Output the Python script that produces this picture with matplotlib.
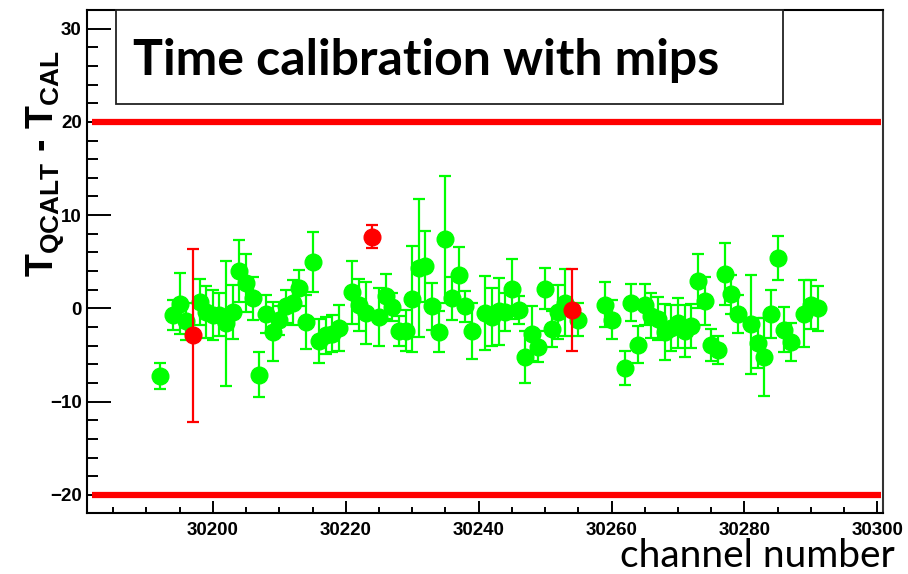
import numpy as np
import matplotlib
matplotlib.use('Agg')
import matplotlib.pyplot as plot
from matplotlib.patches import Rectangle

plot.rcParams['mathtext.fontset'] = 'custom'
plot.rcParams['mathtext.rm'] = 'Liberation Sans'
plot.rcParams['mathtext.bf'] = 'Liberation Sans:bold'

# good channels (green)
channels = [30192, 30194, 30195, 30196, 30198, 30199, 30200, 30201, 30202, 30203,
            30204, 30205, 30206, 30207, 30208, 30209, 30210, 30211, 30212, 30213,
            30214, 30215, 30216, 30217, 30218, 30219, 30221, 30222, 30223, 30225,
            30226, 30227, 30228, 30229, 30230, 30231, 30232, 30233, 30234, 30235,
            30236, 30237, 30238, 30239, 30241, 30242, 30243, 30244, 30245, 30246,
            30247, 30248, 30249, 30250, 30251, 30252, 30253, 30255, 30259, 30260,
            30262, 30263, 30264, 30265, 30266, 30267, 30268, 30269, 30270, 30271,
            30272, 30273, 30274, 30275, 30276, 30277, 30278, 30279, 30281, 30282,
            30283, 30284, 30285, 30286, 30287, 30289, 30290, 30291]
dt = [-7.3, -0.7, 0.5, -1.4, 0.7, -0.4, -0.7, -0.7, -1.6, -0.4,
      4.0, 2.7, 1.1, -7.1, -0.6, -2.5, -1.3, 0.2, 0.6, 2.2,
      -1.5, 5.0, -3.5, -2.9, -2.7, -2.1, 1.7, 0.4, -0.5, -0.9,
      1.3, 0.1, -2.4, -2.4, 1.0, 4.3, 4.5, 0.2, -2.5, 7.4,
      1.1, 3.6, 0.2, -2.4, -0.5, -0.9, -0.3, -0.4, 2.1, -0.2,
      -5.2, -2.7, -4.1, 2.1, -2.2, -0.4, 0.6, -1.2, 0.4, -1.2,
      -6.4, 0.6, -3.9, 0.4, -0.8, -1.1, -2.5, -2.1, -1.6, -2.4,
      -1.9, 2.9, 0.8, -3.9, -4.5, 3.7, 1.5, -0.6, -1.7, -3.7,
      -5.2, -0.6, 5.4, -2.3, -3.6, -0.6, 0.4, 0.0]
dt_err = [1.4, 1.6, 3.3, 2.0, 2.5, 2.8, 2.7, 2.3, 6.7, 2.9,
          3.3, 3.1, 2.3, 2.4, 2.0, 3.2, 1.6, 1.8, 2.4, 1.9,
          2.9, 3.2, 2.4, 2.0, 2.0, 2.5, 3.4, 2.8, 3.3, 3.1,
          2.4, 1.5, 1.6, 2.2, 5.7, 7.4, 3.8, 2.5, 2.2, 6.8,
          2.3, 3.0, 1.7, 3.0, 4.0, 3.1, 3.6, 2.0, 3.2, 1.5,
          2.8, 3.0, 1.7, 2.2, 1.9, 2.9, 3.6, 1.8, 2.4, 2.1,
          1.8, 2.0, 2.0, 2.2, 2.4, 2.3, 3.0, 2.5, 2.7, 2.8,
          2.4, 2.9, 2.6, 1.7, 1.5, 3.3, 2.1, 2.0, 5.3, 2.7,
          4.2, 2.6, 2.4, 2.4, 2.0, 3.6, 2.6, 2.4]

# flagged channels (red)
bad_channels = [30197, 30224, 30254]
bad_dt = [-2.9, 7.7, -0.2]
bad_err = [9.3, 1.2, 4.4]

limits = [-20, 20]
line_x = [30181.8, 30300.6]

fig = plot.figure(figsize=[9.08, 5.74], dpi=100)
ax = fig.add_axes([0.0961, 0.1071, 0.8760, 0.8755])

ax.errorbar(channels, dt, yerr=dt_err, fmt='o', color='#00ff00', ms=12,
            elinewidth=1.6, capsize=4.5, capthick=1.6, zorder=3)
ax.errorbar(bad_channels, bad_dt, yerr=bad_err, fmt='o', color='#ff0000', ms=12,
            elinewidth=1.6, capsize=4.5, capthick=1.6, zorder=4)

for lim in limits:
    ax.hlines(lim, line_x[0], line_x[1], color='#ff0000', lw=4.5, zorder=2)

ax.set_xlim(30181.1, 30300.8)
ax.set_ylim(-21.9, 32)

ax.set_xticks(np.arange(30200, 30301, 20))
ax.set_xticks(np.arange(30185, 30301, 5), minor=True)
ax.set_yticks(np.arange(-20, 31, 10))
ax.set_yticks(np.arange(-20, 32, 2), minor=True)
ax.set_yticklabels(['\u221220', '\u221210', '0', '10', '20', '30'])

ax.tick_params(axis='both', which='both', direction='in', top=False, right=False,
               width=1.4, color='black')
ax.tick_params(axis='y', which='major', length=17, pad=4)
ax.tick_params(axis='y', which='minor', length=8)
ax.tick_params(axis='x', which='major', length=8.6, pad=7)
ax.tick_params(axis='x', which='minor', length=4.3)
for lab in ax.get_xticklabels() + ax.get_yticklabels():
    lab.set_fontfamily('Liberation Sans')
    lab.set_fontweight('bold')
    lab.set_fontsize(13.5)
for sp in ax.spines.values():
    sp.set_linewidth(1.5)
ax.spines['right'].set_color('#333333')

# title box
box = Rectangle((0.1278, 0.8188), 0.7345, 0.1638, transform=fig.transFigure,
                facecolor='white', edgecolor='#222222', lw=1.3, zorder=5)
fig.patches.append(box)
fig.text(0.1465, 0.8693, 'Time calibration with mips', fontsize=36, fontweight='bold',
         family='Lato', ha='left', va='baseline', zorder=6)

fig.text(0.05, 0.714, r'$\mathbf{T_{QCALT}}$ - $\mathbf{T_{CAL}}$', rotation=90,
         fontsize=27, fontweight='bold', family='Liberation Sans',
         ha='center', va='center')

fig.text(0.985, 0.012, 'channel number', fontsize=28, family='Lato',
         ha='right', va='baseline')

fig.savefig('out.png', dpi=100)
